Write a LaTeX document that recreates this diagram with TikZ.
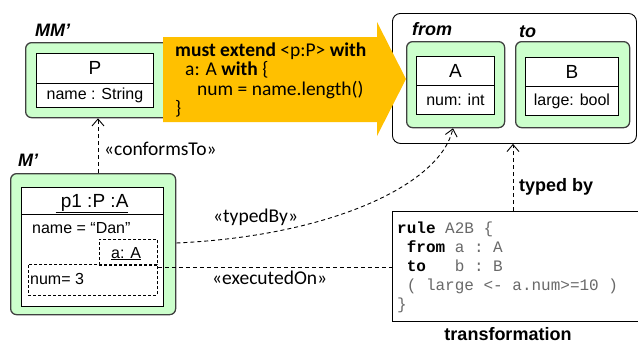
\documentclass[tikz,border=0pt]{standalone}
\usepackage{fontspec}
\setmainfont{Liberation Sans}
\newfontfamily\calfont{Carlito}
\setmonofont{Liberation Mono}
\usetikzlibrary{arrows.meta,calc}
\definecolor{lgreen}{RGB}{204,255,204}
\definecolor{orng}{RGB}{255,192,0}
\definecolor{codegray}{RGB}{105,105,105}
\begin{document}
\begin{tikzpicture}[x=1pt,y=-1pt,
  greenbox/.style={draw=black!75, line width=1.3pt, fill=lgreen, rounded corners=6pt, inner sep=0, anchor=north west},
  classbox/.style={draw=black, line width=0.9pt, fill=white, inner sep=0, anchor=north west},
  dashbox/.style={draw=black, dash pattern=on 3pt off 2pt, line width=0.8pt, inner sep=0, anchor=north west},
  dashline/.style={draw=black, line width=0.9pt, dash pattern=on 4pt off 3pt},
  dep/.style={dashline, -{Straight Barb[length=7pt,width=12pt,line width=0.9pt]}},
  txt/.style={inner sep=0, anchor=base west},
  ctxt/.style={inner sep=0, anchor=center},
  cname/.style={font=\fontsize{19}{22}\selectfont},
  attr/.style={font=\fontsize{16}{19}\selectfont},
  mlabel/.style={txt, font=\bfseries\itshape\fontsize{18}{21}\selectfont},
  cal/.style={txt, font=\calfont\fontsize{19.5}{22}\selectfont},
  code/.style={txt, font=\ttfamily\fontsize{16}{19}\selectfont, text=codegray},
  bold/.style={txt, font=\bfseries\fontsize{18}{21}\selectfont}
]
\clip (0,0) rectangle (638,343);
\fill[white] (0,0) rectangle (638,343);

% MM'
\node[mlabel] (mmlab) at (35,36) {MM’};
\node[greenbox, minimum width=150pt, minimum height=75pt] (mm) at (25,42) {};
\node[classbox, minimum width=117pt, minimum height=30pt] (Pt) at (36,53) {};
\node[classbox, minimum width=117pt, minimum height=24pt] (Pa) at (36,83) {};
\node[ctxt, cname] (Ptx) at (Pt.center) {P};
\node[ctxt, attr] (Pax) at (Pa.center) {name : String};

% outer right box
\node[draw=black, line width=0.9pt, fill=white, rounded corners=8pt, inner sep=0, anchor=north west,
      minimum width=244pt, minimum height=130pt] (outer) at (392,13) {};
\node[mlabel] (fromlab) at (412,35) {from};
\node[mlabel] (tolab) at (519,37) {to};
\node[greenbox, minimum width=98pt, minimum height=86pt] (fromg) at (406,41) {};
\node[classbox, minimum width=78pt, minimum height=29pt] (At) at (416,56) {};
\node[classbox, minimum width=78pt, minimum height=29pt] (Aa) at (416,85) {};
\node[ctxt, cname] (Atx) at (At.center) {A};
\node[ctxt, attr] (Aax) at (Aa.center) {num: int};
\node[greenbox, minimum width=114pt, minimum height=86pt] (tog) at (515,41) {};
\node[classbox, minimum width=93pt, minimum height=29pt] (Bt) at (525,57) {};
\node[classbox, minimum width=93pt, minimum height=29pt] (Ba) at (525,86) {};
\node[ctxt, cname] (Btx) at (Bt.center) {B};
\node[ctxt, attr] (Bax) at (Ba.center) {large: bool};

% orange arrow
\fill[orng] (163,37) -- (377,37) -- (377,22) -- (406,79) -- (377,136) -- (377,122) -- (163,122) -- cycle;
\node[cal] (o1) at (175,56) {\textbf{must extend} <p:P> \textbf{with}};
\node[cal] (o2) at (185,75) {a: A \textbf{with} \{};
\node[cal] (o3) at (197,95) {num = name.length()};
\node[cal] (o4) at (175,114) {\}};

% M'
\node[mlabel] (mplab) at (18,166) {M’};
\node[greenbox, minimum width=165pt, minimum height=141pt] (mp) at (10,173) {};
\node[classbox, minimum width=142pt, minimum height=27pt] (pt) at (21,187) {};
\node[classbox, minimum width=142pt, minimum height=92pt] (pa) at (21,214) {};
\node[txt, cname, anchor=base] (ptx) at (92,207) {\underline{\ p1 :P :A}};
\node[txt, attr] (dan) at (32,233) {name = “Dan”};
\node[dashbox, minimum width=58pt, minimum height=26pt] (abox) at (99,239) {};
\node[txt, attr] (atx) at (111,258) {\underline{a: A}};
\node[dashbox, minimum width=129pt, minimum height=31pt] (numbox) at (28,264) {};
\node[txt, attr] (numtx) at (30,284) {num= 3};

% conformsTo
\draw[dep] ([xshift=88pt]mp.north west) -- ([xshift=73pt]mm.south west);
\node[cal] (conf) at (104,155) {«conformsTo»};

% transformation
\node[draw=black, line width=1.1pt, fill=white, inner sep=0, anchor=north west,
      minimum width=260pt, minimum height=110pt] (trans) at (392,211) {};
\node[code] (c1) at (397,233) {\textbf{\textcolor{black}{rule}} A2B \{};
\node[code] (c2) at (397,252) {\ \textbf{\textcolor{black}{from}} a : A};
\node[code] (c3) at (397,271) {\ \textbf{\textcolor{black}{to}}\ \ \ b : B};
\node[code] (c4) at (397,290) {\ ( large <- a.num>=10 )};
\node[code] (c5) at (397,309) {\}};
\node[bold, anchor=base] (translab) at (508,340) {transformation};

% typed by
\draw[dep] ([xshift=121pt]trans.north west) -- ([xshift=121pt]outer.south west);
\node[bold] (typedby) at (519,191) {typed by};

% typedBy curve
\draw[dep] ([yshift=-70pt]mp.north east) .. controls (330,236) and (440,185) .. ([xshift=47pt]fromg.south west);
\node[cal] (tblab) at (213,222) {«typedBy»};

% executedOn
\draw[dashline] ([yshift=-3pt]numbox.north east) -- ([yshift=-3pt]numbox.north east -| trans.west);
\node[cal] (exlab) at (212,284) {«executedOn»};
\end{tikzpicture}
\end{document}
